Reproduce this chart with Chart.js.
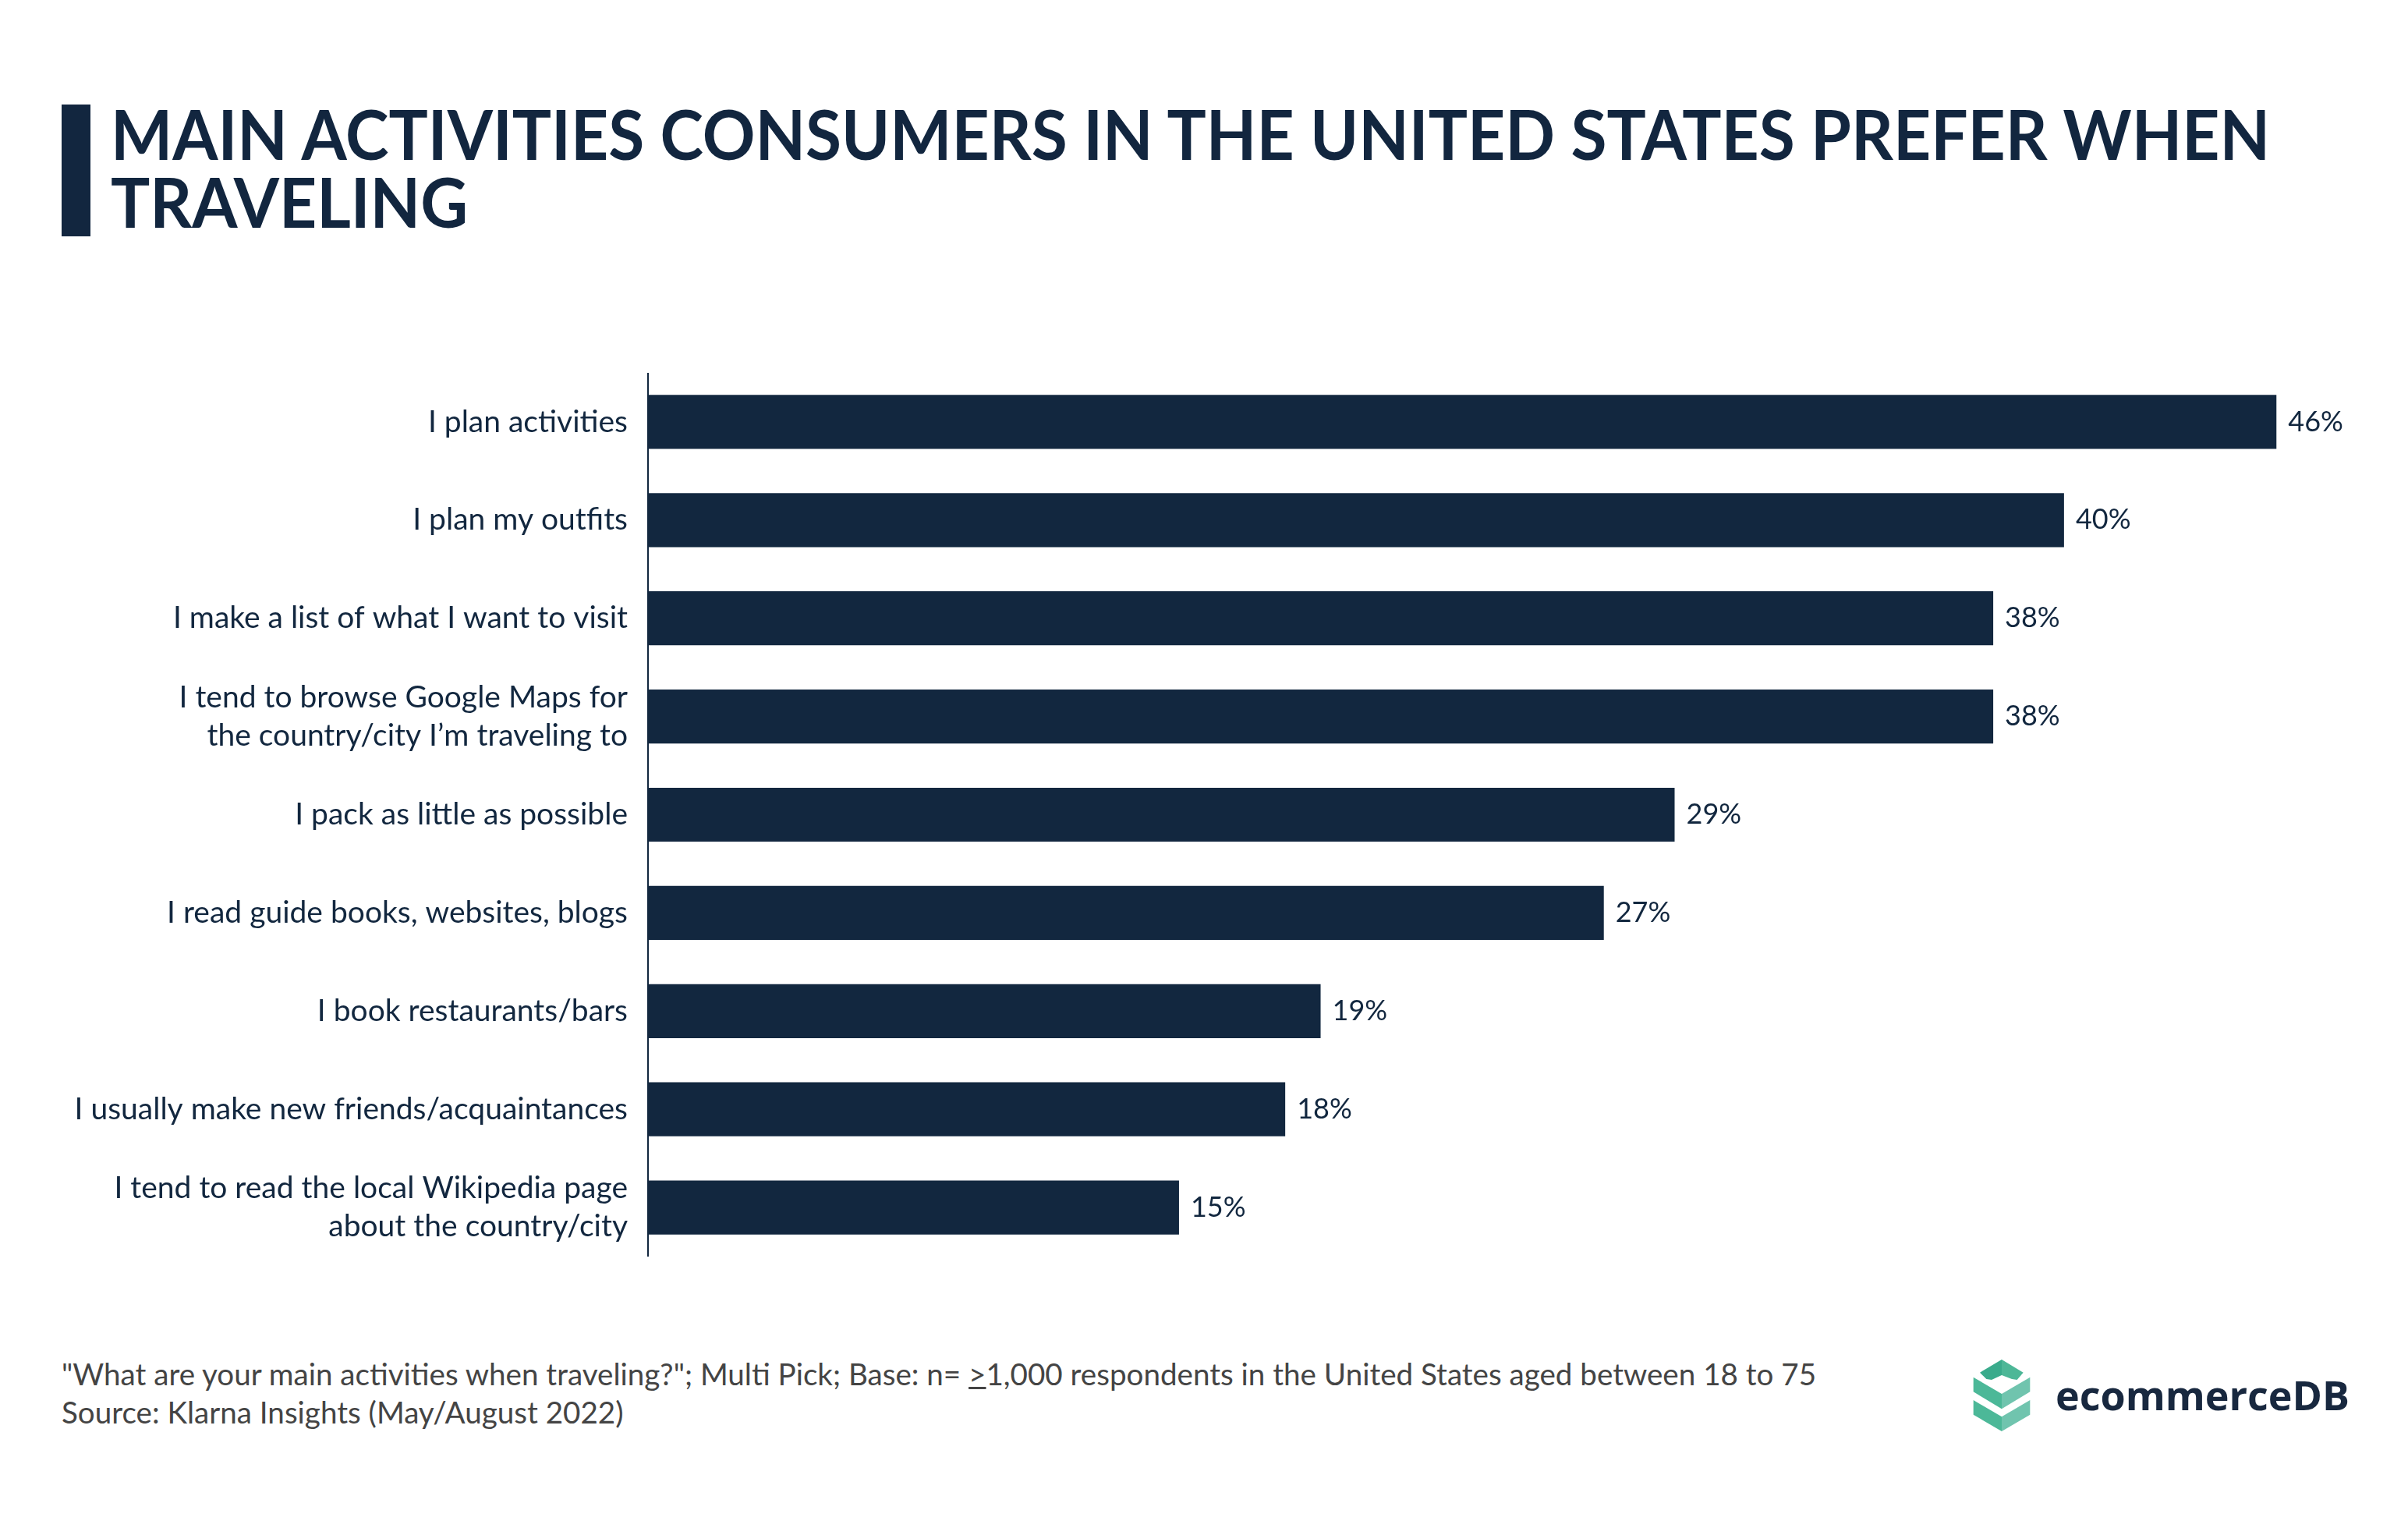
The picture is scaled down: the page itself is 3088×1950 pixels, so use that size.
<!DOCTYPE html>
<html>
<head>
<meta charset="utf-8">
<script src="https://cdn.jsdelivr.net/npm/chart.js@4.4.1/dist/chart.umd.min.js"></script>
<style>
  html, body { margin:0; padding:0; background:#ffffff; }
  body { width:3088px; height:1950px; position:relative; overflow:hidden; font-family: Lato, "Open Sans", sans-serif; }
  #titlebar { position:absolute; left:79px; top:134px; width:37px; height:169px; background:#12263f; }
  #title { position:absolute; left:142px; top:128px; color:#12263f; font-family:Lato, sans-serif; font-weight:700; font-size:88px; line-height:87px; white-space:nowrap; transform-origin:0 0; transform:scaleX(0.953); }
  #chartwrap { position:absolute; left:0; top:478px; width:3060px; height:1133px; }
  #footer { position:absolute; left:79px; top:1737px; color:#444444; font-family:Lato, sans-serif; font-size:38.6px; line-height:49px; white-space:nowrap; }
  #logo { position:absolute; left:2524px; top:1743px; }
  #logotext { position:absolute; left:2636px; top:1756px; color:#18283f; font-family:"Open Sans", sans-serif; font-weight:700; font-size:52px; line-height:64px; white-space:nowrap; }
</style>
</head>
<body>
<div id="titlebar"></div>
<div id="title">MAIN ACTIVITIES CONSUMERS IN THE UNITED STATES PREFER WHEN<br>TRAVELING</div>
<div id="chartwrap"><canvas id="c"></canvas></div>
<div id="footer">"What are your main activities when traveling?"; Multi Pick; Base: n= <u>&gt;</u>1,000 respondents in the United States aged between 18 to 75<br>Source: Klarna Insights (May/August 2022)</div>
<svg id="logo" width="86" height="92" viewBox="0 0 218 276">
  <polygon points="25,50 109,0 109,60 70,78 50,75" fill="#3aab8c"/>
  <polygon points="109,0 192,50 168,78 148,75 109,60" fill="#4db797"/>
  <polygon points="0,68 109,132 109,190 0,124" fill="#4cb898"/>
  <polygon points="109,132 218,68 218,124 109,190" fill="#70c4ae"/>
  <polygon points="0,156 109,220 109,276 0,212" fill="#4cb898"/>
  <polygon points="109,220 218,156 218,212 109,276" fill="#70c4ae"/>
</svg>
<div id="logotext">ecommerceDB</div>
<script>
const categories = [
  "I plan activities",
  "I plan my outfits",
  "I make a list of what I want to visit",
  ["I tend to browse Google Maps for", "the country/city I\u2019m traveling to"],
  "I pack as little as possible",
  "I read guide books, websites, blogs",
  "I book restaurants/bars",
  "I usually make new friends/acquaintances",
  ["I tend to read the local Wikipedia page", "about the country/city"]
];
const shares = [46, 40, 38, 38, 29, 27, 19, 18, 15];
const valueLabels = shares.map(v => v + "%");

const navy = "#12273f";

const valueLabelPlugin = {
  id: "valueLabels",
  afterDatasetsDraw(chart) {
    const ctx = chart.ctx;
    const meta = chart.getDatasetMeta(0);
    ctx.save();
    ctx.fillStyle = navy;
    ctx.font = "36px Lato, sans-serif";
    ctx.textAlign = "left";
    ctx.textBaseline = "middle";
    meta.data.forEach((bar, i) => {
      ctx.fillText(valueLabels[i], bar.x + 15, bar.y);
    });
    ctx.restore();
  }
};

new Chart(document.getElementById("c"), {
  type: "bar",
  data: {
    labels: categories,
    datasets: [{
      data: shares,
      backgroundColor: navy,
      borderWidth: 0,
      barPercentage: 0.55,
      categoryPercentage: 1.0
    }]
  },
  options: {
    indexAxis: "y",
    responsive: true,
    maintainAspectRatio: false,
    animation: false,
    layout: { padding: 0 },
    plugins: { legend: { display: false }, tooltip: { enabled: false } },
    scales: {
      x: { display: false, min: 0, max: 49.1 },
      y: {
        afterFit(scale) {
          scale.width = 831;
          scale.paddingTop = 0;
          scale.paddingBottom = 0;
          scale.paddingLeft = 0;
          scale.paddingRight = 0;
        },
        grid: { display: true, color: "transparent", drawTicks: false },
        border: { display: true, color: navy, width: 2 },
        ticks: {
          color: navy,
          padding: 26,
          font: { family: "Lato, sans-serif", size: 39, lineHeight: 1.256 }
        }
      }
    }
  },
  plugins: [valueLabelPlugin]
});
</script>
</body>
</html>
